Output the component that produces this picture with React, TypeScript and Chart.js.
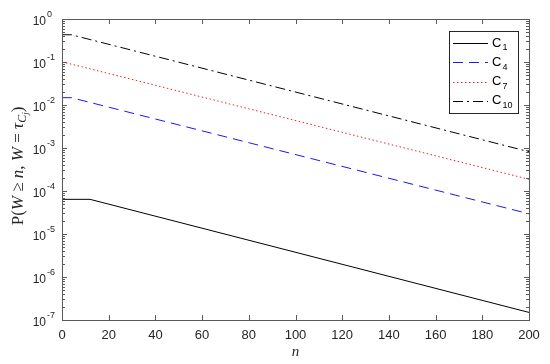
import React, { useEffect, useRef } from "react";
import { Chart, registerables } from "chart.js";

Chart.register(...registerables);

const c1N = [0, 12, 200];
const c1P = [6.4e-5, 6.4e-5, 1.5e-7];
const c4N = [0, 4, 200];
const c4P = [1.48e-2, 1.48e-2, 2.95e-5];
const c7N = [0, 1, 200];
const c7P = [0.098, 0.098, 1.87e-4];
const c10N = [0, 4, 200];
const c10P = [0.43, 0.43, 8.2e-4];

const xTicks = [0, 20, 40, 60, 80, 100, 120, 140, 160, 180, 200];
const yExps = [0, -1, -2, -3, -4, -5, -6, -7];

const seriesNames = ["1", "4", "7", "10"];
const seriesColors = ["#000000", "#1a1aee", "#ee2222", "#000000"];
const seriesDash = [[], [10, 6], [1.5, 2.5], [10, 4, 2, 4]];

const AXIS = "#5a5a5a";
const SANS = "'Liberation Sans', Arial, sans-serif";
const SERIF = "'Liberation Serif', 'Times New Roman', serif";

const pts = (xs: number[], ys: number[]) => xs.map((v, i) => ({ x: v, y: ys[i] }));

const decor = {
  id: "decor",
  afterDraw(chart: any) {
    const { ctx, chartArea, scales } = chart;
    const { left, right, top, bottom } = chartArea;
    const xs = scales.x, ys = scales.y;
    ctx.save();
    ctx.strokeStyle = AXIS;
    ctx.lineWidth = 1;
    ctx.setLineDash([]);
    ctx.strokeRect(Math.round(left) + 0.5, Math.round(top) + 0.5, Math.round(right - left), Math.round(bottom - top));
    ctx.beginPath();
    xTicks.forEach((t) => {
      const px = Math.round(xs.getPixelForValue(t)) + 0.5;
      ctx.moveTo(px, bottom);
      ctx.lineTo(px, bottom - 5);
      ctx.moveTo(px, top);
      ctx.lineTo(px, top + 5);
    });
    yExps.forEach((e) => {
      const py = Math.round(ys.getPixelForValue(Math.pow(10, e))) + 0.5;
      ctx.moveTo(left, py);
      ctx.lineTo(left + 5, py);
      ctx.moveTo(right, py);
      ctx.lineTo(right - 5, py);
      if (e > -7) {
        for (let m = 2; m <= 9; m++) {
          const v = m * Math.pow(10, e - 1);
          const pm = Math.round(ys.getPixelForValue(v)) + 0.5;
          ctx.moveTo(left, pm);
          ctx.lineTo(left + 3, pm);
          ctx.moveTo(right, pm);
          ctx.lineTo(right - 3, pm);
        }
      }
    });
    ctx.stroke();

    ctx.fillStyle = "#262626";
    ctx.font = `13px ${SANS}`;
    ctx.textAlign = "center";
    ctx.textBaseline = "middle";
    xTicks.forEach((t) => {
      ctx.fillText(String(t), xs.getPixelForValue(t), bottom + 15);
    });
    yExps.forEach((e) => {
      const py = ys.getPixelForValue(Math.pow(10, e));
      ctx.font = `12px ${SANS}`;
      ctx.textAlign = "right";
      ctx.textBaseline = "middle";
      ctx.fillText("10", 46, py + 3);
      ctx.font = `9px ${SANS}`;
      ctx.textAlign = "left";
      ctx.fillText(e === 0 ? "0" : "-" + String(-e), 47, py - 4);
    });

    ctx.font = `italic 15px ${SERIF}`;
    ctx.textAlign = "center";
    ctx.textBaseline = "middle";
    ctx.fillText("n", (left + right) / 2, 352);

    ctx.save();
    ctx.translate(19, 166);
    ctx.rotate(-Math.PI / 2);
    const parts: [string, string, number][] = [
      ["P(", `17px ${SERIF}`, 0],
      ["W", `italic 17px ${SERIF}`, 0],
      [" \u2265 ", `17px ${SERIF}`, 0],
      ["n", `italic 17px ${SERIF}`, 0],
      [", ", `17px ${SERIF}`, 0],
      ["W", `italic 17px ${SERIF}`, 0],
      [" = ", `17px ${SERIF}`, 0],
      ["\u03c4", `italic 17px ${SERIF}`, 0],
      ["C", `italic 12px ${SERIF}`, 4],
      ["j", `italic 9px ${SERIF}`, 7],
      [")", `17px ${SERIF}`, 0],
    ];
    let total = 0;
    parts.forEach(([s, f]) => {
      ctx.font = f;
      total += ctx.measureText(s).width;
    });
    let cx = -total / 2;
    ctx.textAlign = "left";
    ctx.textBaseline = "middle";
    parts.forEach(([s, f, dy]) => {
      ctx.font = f;
      ctx.fillText(s, cx, dy);
      cx += ctx.measureText(s).width;
    });
    ctx.restore();

    const lx = 449, ly = 31, lw = 69, lh = 82;
    ctx.fillStyle = "#ffffff";
    ctx.fillRect(lx, ly, lw, lh);
    ctx.strokeStyle = "#262626";
    ctx.lineWidth = 1;
    ctx.strokeRect(lx + 0.5, ly + 0.5, lw, lh);
    seriesNames.forEach((name, i) => {
      const yy = 43 + i * 19.3;
      ctx.strokeStyle = seriesColors[i];
      ctx.setLineDash(seriesDash[i]);
      ctx.beginPath();
      ctx.moveTo(453, Math.round(yy) + 0.5);
      ctx.lineTo(488, Math.round(yy) + 0.5);
      ctx.stroke();
      ctx.setLineDash([]);
      ctx.fillStyle = "#000000";
      ctx.font = `13px ${SANS}`;
      ctx.textAlign = "left";
      ctx.textBaseline = "middle";
      ctx.fillText("C", 492, yy);
      const w = ctx.measureText("C").width;
      ctx.font = `9px ${SANS}`;
      ctx.fillText(name, 492 + w + 1, yy + 5);
    });
    ctx.restore();
  },
};

export default function App() {
  const ref = useRef<HTMLCanvasElement | null>(null);
  useEffect(() => {
    document.body.style.margin = "0";
    const canvas = ref.current!;
    const chart = new Chart(canvas, {
      type: "line",
      data: {
        datasets: [
          { label: "C1", data: pts(c1N, c1P) },
          { label: "C4", data: pts(c4N, c4P) },
          { label: "C7", data: pts(c7N, c7P) },
          { label: "C10", data: pts(c10N, c10P) },
        ].map((d, i) => ({
          ...d,
          borderColor: seriesColors[i],
          borderDash: seriesDash[i],
          borderWidth: 1,
          pointRadius: 0,
          fill: false,
          tension: 0,
        })),
      },
      options: {
        animation: false,
        responsive: false,
        maintainAspectRatio: false,
        layout: { padding: { left: 62, right: 21, top: 19, bottom: 44 } },
        plugins: { legend: { display: false }, tooltip: { enabled: false } },
        scales: {
          x: { type: "linear", min: 0, max: 200, display: false },
          y: { type: "logarithmic", min: 1e-7, max: 1, display: false },
        },
      },
      plugins: [decor],
    });
    return () => chart.destroy();
  }, []);
  return <canvas ref={ref} width={550} height={364} style={{ display: "block" }} />;
}
